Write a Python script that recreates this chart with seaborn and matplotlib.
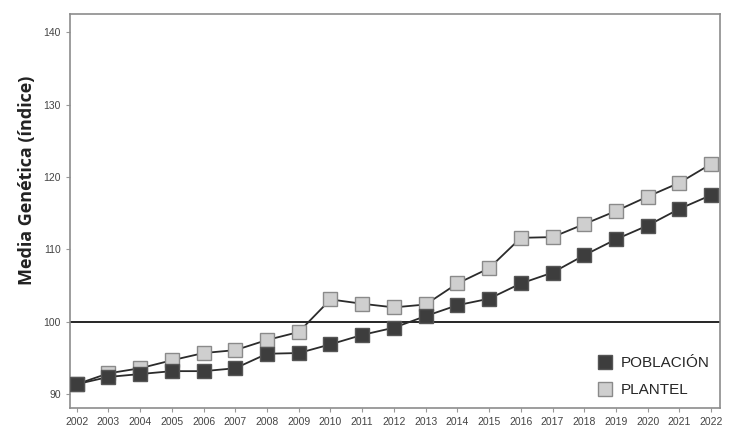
import matplotlib
matplotlib.use("Agg")
import matplotlib.pyplot as plt
import pandas as pd
import seaborn as sns
from matplotlib.lines import Line2D

years = list(range(2002, 2023))
poblacion = [91.4, 92.4, 92.8, 93.2, 93.2, 93.6, 95.6, 95.7, 96.9, 98.2, 99.2,
             100.8, 102.3, 103.2, 105.3, 106.8, 109.2, 111.4, 113.3, 115.6, 117.5]
plantel = [91.4, 92.9, 93.6, 94.7, 95.7, 96.1, 97.5, 98.6, 103.1, 102.5, 102.0,
           102.4, 105.3, 107.4, 111.6, 111.7, 113.5, 115.3, 117.3, 119.2, 121.8]
series_names = ["POBLACIÓN", "PLANTEL"]
y_ticks = [90, 100, 110, 120, 130, 140]

sns.set_theme(style="ticks")
plt.rcParams["font.family"] = ["Liberation Sans", "DejaVu Sans"]

fig, ax = plt.subplots(figsize=(7.34, 4.36), dpi=100)

colors = {"POBLACIÓN": "#3d3d3d", "PLANTEL": "#cfcfcf"}
edges = {"POBLACIÓN": "#555555", "PLANTEL": "#8a8a8a"}

ax.axhline(100, color="black", linewidth=1.2, zorder=1)

# plantel first so poblacion sits on top where they overlap
for name, vals in [("PLANTEL", plantel), ("POBLACIÓN", poblacion)]:
    df = pd.DataFrame({"year": years, "value": vals})
    sns.lineplot(data=df, x="year", y="value", ax=ax, color="#2b2b2b",
                 linewidth=1.3, marker="s", markersize=10.5,
                 markerfacecolor=colors[name], markeredgecolor=edges[name],
                 markeredgewidth=1.0, zorder=3)

ax.set_xlim(2001.78, 2022.28)
ax.set_ylim(88.1, 142.5)
ax.set_xticks(years)
ax.set_yticks(y_ticks)
ax.tick_params(axis="both", labelsize=7.5, labelcolor="#444444", color="#999999",
               length=3, width=0.8)
ax.set_xlabel("")
ax.set_ylabel("Media Genética (índice)", fontsize=13, fontweight="bold",
              color="#222222", family=["Open Sans", "DejaVu Sans"])
ax.yaxis.set_label_coords(-0.052, 0.579)

for s in ["top", "bottom", "left", "right"]:
    ax.spines[s].set_visible(True)
    ax.spines[s].set_color("#8c8c8c")
    ax.spines[s].set_linewidth(1.2)

handles = [Line2D([], [], linestyle="none", marker="s", markersize=10.5,
                  markerfacecolor=colors[n], markeredgecolor=edges[n])
           for n in series_names]
ax.legend(handles, series_names, loc="lower right", frameon=False,
          prop={"family": ["DejaVu Sans Condensed", "Liberation Sans Narrow",
                           "Liberation Sans"], "size": 11},
          handletextpad=0.4, labelspacing=0.85, borderaxespad=0.3,
          handlelength=1.2)

fig.subplots_adjust(left=0.095, right=0.981, top=0.968, bottom=0.064)
fig.savefig("out.png", dpi=100)
